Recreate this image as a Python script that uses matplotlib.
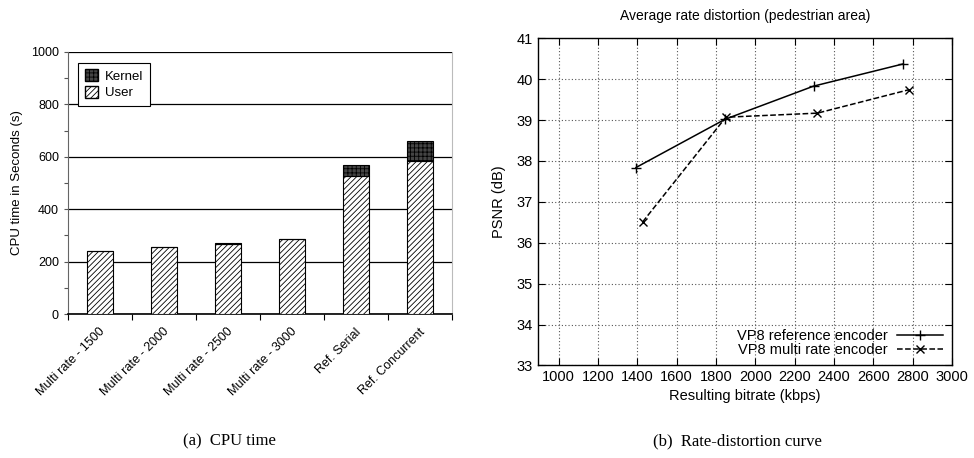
import numpy as np
import matplotlib
matplotlib.use('Agg')
import matplotlib.pyplot as plt
from matplotlib.patches import Patch

plt.rcParams['font.family'] = 'Liberation Sans'
plt.rcParams['hatch.linewidth'] = 0.6

# (a) CPU time
configs = ['Multi rate - 1500', 'Multi rate - 2000', 'Multi rate - 2500',
           'Multi rate - 3000', 'Ref. Serial', 'Ref. Concurrent']
user_time = [241, 256, 267, 287, 527, 584]
kernel_time = [1, 1, 3, 1, 43, 76]

# (b) Rate-distortion
ref_bitrate = [1393, 1846, 2296, 2749]
ref_psnr = [37.84, 39.02, 39.83, 40.37]
multi_bitrate = [1427, 1850, 2316, 2779]
multi_psnr = [36.51, 39.07, 39.17, 39.74]

fig = plt.figure(figsize=(9.74, 4.58), dpi=100)

# ---- left chart
ax1 = fig.add_axes([0.0698, 0.3144, 0.3942, 0.5721])
x = np.arange(len(configs))
ax1.bar(x, user_time, width=0.4, color='white', edgecolor='black', hatch='//////', linewidth=0.8, zorder=3)
ax1.bar(x, kernel_time, bottom=user_time, width=0.4, color='#444444', edgecolor='black', hatch='++++', linewidth=0.8, zorder=3)
ax1.set_xlim(-0.5, len(configs) - 0.5)
ax1.set_ylim(0, 1000)
ax1.set_yticks(np.arange(0, 1001, 200))
ax1.set_yticks(np.arange(100, 1000, 200), minor=True)
ax1.yaxis.grid(True, color='black', linewidth=0.9, zorder=0)
ax1.set_xticks(np.arange(-0.5, len(configs), 1.0))
ax1.set_xticklabels([])
ax1.tick_params(axis='x', length=4, width=0.8)
ax1.tick_params(axis='y', which='both', length=3, width=0.8, labelsize=9, colors='#555555', labelcolor='black')
for i, lab in enumerate(configs):
    ax1.text(i + 0.12, -45, lab, rotation=45, ha='right', va='top', fontsize=9, rotation_mode='default')
ax1.spines['top'].set_visible(False)
ax1.spines['right'].set_color('#bbbbbb')
ax1.spines['left'].set_color('#666666')
ax1.spines['bottom'].set_linewidth(1.2)
ax1.set_ylabel('CPU time in Seconds (s)', fontsize=9.5, labelpad=6)
handles = [Patch(facecolor='#444444', edgecolor='black', hatch='++++', label='Kernel'),
           Patch(facecolor='white', edgecolor='black', hatch='//////', label='User')]
leg = ax1.legend(handles=handles, loc='upper left', bbox_to_anchor=(0.01, 0.985), fontsize=9.5,
                 fancybox=False, framealpha=1, edgecolor='black', handlelength=1.0,
                 handleheight=1.0, handletextpad=0.5, borderpad=0.5, labelspacing=0.25)
leg.get_frame().set_linewidth(0.8)

# ---- right chart
ax2 = fig.add_axes([0.5524, 0.202, 0.425, 0.7144])
ax2.plot(ref_bitrate, ref_psnr, color='black', linestyle='-', marker='+', markersize=7,
         linewidth=1.1, label='VP8 reference encoder')
ax2.plot(multi_bitrate, multi_psnr, color='black', linestyle='--', marker='x', markersize=6,
         linewidth=1.1, label='VP8 multi rate encoder')
ax2.set_xlim(895, 3000)
ax2.set_ylim(33, 41)
ax2.set_xticks(np.arange(1000, 3001, 200))
ax2.set_yticks(np.arange(33, 42, 1))
ax2.grid(True, color='#555555', linestyle=(0, (1, 2)), linewidth=0.8)
ax2.tick_params(which='both', direction='in', top=True, right=True, length=5, labelsize=10.5)
for s in ax2.spines.values():
    s.set_linewidth(1.0)
ax2.set_title('Average rate distortion (pedestrian area)', fontsize=10, pad=13)
ax2.set_xlabel('Resulting bitrate (kbps)', fontsize=10.5, labelpad=3)
ax2.set_ylabel('PSNR (dB)', fontsize=10.5, labelpad=8)
ax2.legend(loc='lower right', fontsize=10.5, frameon=False, markerfirst=False,
           handlelength=3.2, handletextpad=0.6, labelspacing=0.0, borderaxespad=0.2)

fig.text(0.236, 0.037, '(a)  CPU time', ha='center', va='center', fontsize=12, family='Liberation Serif')
fig.text(0.757, 0.037, '(b)  Rate-distortion curve', ha='center', va='center', fontsize=12, family='Liberation Serif')

fig.savefig('out.png', dpi=100)
